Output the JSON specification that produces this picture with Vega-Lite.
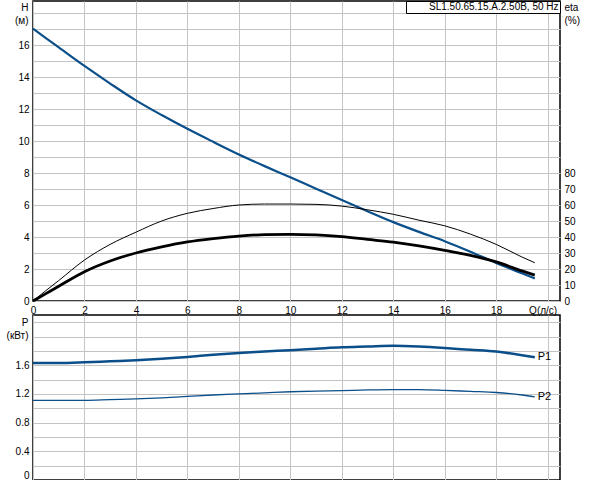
{
  "$schema": "https://vega.github.io/schema/vega-lite/v6.json",
  "autosize": {"type": "pad"},
  "padding": {"left": 5, "top": 0, "right": 5, "bottom": 0},
  "background": "white",
  "bounds": "flush",
  "spacing": 14,
  "data": {
    "values": [
      {"Q": 0, "H": 17.02, "etaH": 0, "etaT": 0, "P1": 1.63, "P2": 1.11},
      {"Q": 0.5, "H": 16.43, "etaH": 6.5, "etaT": 4.6, "P1": 1.63, "P2": 1.11},
      {"Q": 1, "H": 15.85, "etaH": 12.8, "etaT": 9.2, "P1": 1.63, "P2": 1.11},
      {"Q": 2, "H": 14.69, "etaH": 25.6, "etaT": 18.3, "P1": 1.64, "P2": 1.11},
      {"Q": 3, "H": 13.59, "etaH": 35.4, "etaT": 25.0, "P1": 1.655, "P2": 1.12},
      {"Q": 4, "H": 12.54, "etaH": 43.0, "etaT": 30.0, "P1": 1.67, "P2": 1.13},
      {"Q": 5, "H": 11.62, "etaH": 50.0, "etaT": 33.8, "P1": 1.69, "P2": 1.145},
      {"Q": 6, "H": 10.76, "etaH": 54.8, "etaT": 36.9, "P1": 1.715, "P2": 1.165},
      {"Q": 7, "H": 9.95, "etaH": 57.8, "etaT": 39.0, "P1": 1.745, "P2": 1.185},
      {"Q": 8, "H": 9.16, "etaH": 60.0, "etaT": 40.6, "P1": 1.77, "P2": 1.2},
      {"Q": 9, "H": 8.43, "etaH": 60.6, "etaT": 41.5, "P1": 1.79, "P2": 1.215},
      {"Q": 10, "H": 7.73, "etaH": 60.6, "etaT": 41.7, "P1": 1.81, "P2": 1.23},
      {"Q": 11, "H": 7.02, "etaH": 60.4, "etaT": 41.3, "P1": 1.83, "P2": 1.24},
      {"Q": 12, "H": 6.31, "etaH": 59.3, "etaT": 40.2, "P1": 1.85, "P2": 1.245},
      {"Q": 13, "H": 5.61, "etaH": 57.0, "etaT": 38.5, "P1": 1.86, "P2": 1.255},
      {"Q": 14, "H": 4.93, "etaH": 54.2, "etaT": 36.8, "P1": 1.87, "P2": 1.26},
      {"Q": 15, "H": 4.32, "etaH": 50.5, "etaT": 34.5, "P1": 1.86, "P2": 1.26},
      {"Q": 16, "H": 3.74, "etaH": 47.0, "etaT": 31.7, "P1": 1.84, "P2": 1.25},
      {"Q": 17, "H": 3.08, "etaH": 41.8, "etaT": 28.5, "P1": 1.815, "P2": 1.235},
      {"Q": 18, "H": 2.38, "etaH": 35.4, "etaT": 24.4, "P1": 1.79, "P2": 1.22},
      {"Q": 19, "H": 1.73, "etaH": 27.5, "etaT": 18.8, "P1": 1.74, "P2": 1.185},
      {"Q": 19.5, "H": 1.41, "etaH": 23.9, "etaT": 16.2, "P1": 1.71, "P2": 1.16}
    ]
  },
  "config": {
    "font": "Liberation Sans",
    "view": {"stroke": "black", "strokeWidth": 1.5},
    "axis": {
      "grid": true,
      "gridColor": "#c4c4c4",
      "gridWidth": 1,
      "domain": false,
      "ticks": false,
      "tickSize": 0,
      "labelFontSize": 10,
      "labelColor": "black",
      "labelPadding": 4,
      "labelOverlap": false,
      "labelFlush": false,
      "titleFontSize": 10,
      "titleFontWeight": "normal",
      "titleColor": "black"
    }
  },
  "vconcat": [
    {
      "width": 527,
      "height": 300,
      "encoding": {
        "x": {
          "field": "Q", "type": "quantitative",
          "scale": {"domain": [0, 20.48], "nice": false},
          "axis": {
            "values": [0, 2, 4, 6, 8, 10, 12, 14, 16, 18, 20],
            "labelExpr": "datum.value == 20 ? 'Q(л/с)' : datum.label",
            "labelOffset": {"condition": {"test": "datum.value == 20", "value": -5}, "value": 0},
            "labelOverlap": false,
            "title": null
          }
        }
      },
      "layer": [
        {
          "mark": {"type": "line", "strokeWidth": 2.2, "interpolate": "monotone"},
          "encoding": {
            "y": {
              "field": "H", "type": "quantitative",
              "scale": {"domain": [0, 18.75], "nice": false},
              "axis": {
                "values": [0, 1, 2, 3, 4, 5, 6, 7, 8, 9, 10, 11, 12, 13, 14, 15, 16, 17, 18],
                "labelExpr": "(datum.value % 2 == 0 && datum.value <= 16) ? datum.label : ''",
                "labelOverlap": false,
                "title": ["H", "(м)"],
                "titleAngle": 0,
                "titleAlign": "right",
                "titleBaseline": "top",
                "titleX": -5,
                "titleY": 1,
                "titleLineHeight": 13
              }
            },
            "color": {
              "datum": "SL1.50.65.15.A.2.50B, 50 Hz",
              "scale": {"range": ["#0b4f8a"]},
              "legend": {
                "orient": "top-right",
                "offset": 0,
                "title": null,
                "strokeColor": "black",
                "fillColor": "white",
                "padding": 1,
                "symbolOpacity": 0,
                "symbolSize": 0,
                "symbolStrokeWidth": 0,
                "labelFontSize": 10,
                "labelOffset": 12,
                "labelExpr": "datum.label + '\u00a0\u00a0\u2009'",
                "labelColor": "black",
                "cornerRadius": 0
              }
            }
          }
        },
        {
          "layer": [
            {
              "mark": {"type": "line", "strokeWidth": 1, "color": "black", "interpolate": "monotone"},
              "encoding": {
                "y": {
                  "field": "etaH", "type": "quantitative",
                  "scale": {"domain": [0, 187.5], "nice": false},
                  "axis": {
                    "orient": "right",
                    "grid": false,
                    "values": [0, 10, 20, 30, 40, 50, 60, 70, 80],
                    "labelOverlap": false,
                    "title": ["eta", "(%)"],
                    "titleAngle": 0,
                    "titleAlign": "left",
                    "titleBaseline": "top",
                    "titleX": 4,
                    "titleY": 1,
                    "titleLineHeight": 13
                  }
                }
              }
            },
            {
              "mark": {"type": "line", "strokeWidth": 2.8, "color": "black", "interpolate": "monotone"},
              "encoding": {
                "y": {
                  "field": "etaT", "type": "quantitative",
                  "scale": {"domain": [0, 187.5], "nice": false},
                  "axis": {
                    "orient": "right",
                    "grid": false,
                    "values": [0, 10, 20, 30, 40, 50, 60, 70, 80],
                    "labelOverlap": false,
                    "title": ["eta", "(%)"],
                    "titleAngle": 0,
                    "titleAlign": "left",
                    "titleBaseline": "top",
                    "titleX": 4,
                    "titleY": 1,
                    "titleLineHeight": 13
                  }
                }
              }
            }
          ]
        }
      ],
      "resolve": {"scale": {"y": "independent"}}
    },
    {
      "width": 527,
      "height": 165,
      "encoding": {
        "x": {
          "field": "Q", "type": "quantitative",
          "scale": {"domain": [0, 20.48], "nice": false},
          "axis": {"values": [0, 2, 4, 6, 8, 10, 12, 14, 16, 18, 20], "labels": false, "title": null}
        },
        "y": {
          "field": "P", "type": "quantitative",
          "scale": {"domain": [0, 2.3], "nice": false},
          "axis": {
            "values": [0, 0.2, 0.4, 0.6, 0.8, 1, 1.2, 1.4, 1.6, 1.8, 2, 2.2],
            "labelExpr": "(abs(datum.value - 0) < 0.01 || abs(datum.value - 0.4) < 0.01 || abs(datum.value - 0.8) < 0.01 || abs(datum.value - 1.2) < 0.01 || abs(datum.value - 1.6) < 0.01) ? format(datum.value, '.1~f') : ''",
            "labelOffset": {"condition": {"test": "datum.value == 0", "value": -5}, "value": 0},
            "labelOverlap": false,
            "title": ["P", "(кВт)"],
            "titleAngle": 0,
            "titleAlign": "right",
            "titleBaseline": "top",
            "titleX": -5,
            "titleY": 2,
            "titleLineHeight": 13
          }
        }
      },
      "layer": [
        {
          "transform": [{"fold": ["P1"], "as": ["curve", "P"]}],
          "mark": {"type": "line", "color": "#0b4f8a", "strokeWidth": 2.5, "interpolate": "monotone"}
        },
        {
          "transform": [{"fold": ["P2"], "as": ["curve", "P"]}],
          "mark": {"type": "line", "color": "#0b4f8a", "strokeWidth": 1.3, "interpolate": "monotone"}
        },
        {
          "transform": [
            {"filter": "datum.Q == 19.5"},
            {"fold": ["P1", "P2"], "as": ["curve", "P"]}
          ],
          "mark": {"type": "text", "align": "left", "baseline": "middle", "dx": 3, "fontSize": 11, "color": "black"},
          "encoding": {
            "text": {"field": "curve", "type": "nominal"}
          }
        }
      ]
    }
  ]
}
